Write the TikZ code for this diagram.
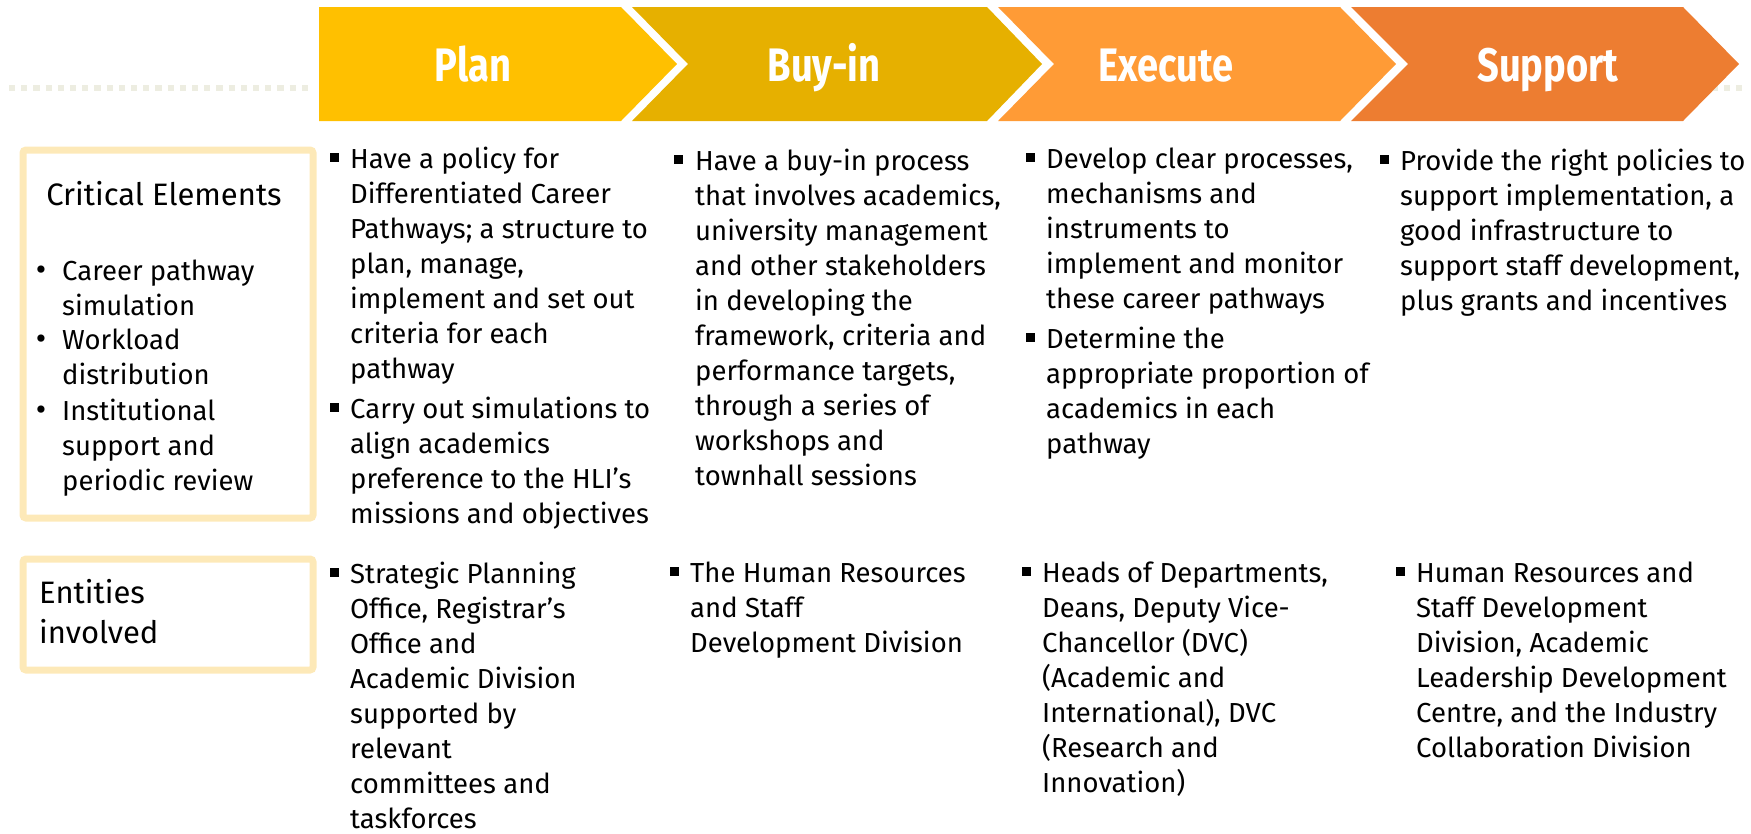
\documentclass[tikz,border=0pt]{standalone}
\usepackage{fontspec}
\setmainfont{Fira Sans}
\newfontfamily\headfont[FakeStretch=0.81]{Fira Sans}
\definecolor{planc}{HTML}{FFC000}
\definecolor{buyc}{HTML}{E6B000}
\definecolor{execc}{HTML}{FF9B36}
\definecolor{suppc}{HTML}{ED7D31}
\definecolor{boxc}{HTML}{FDE9B8}
\definecolor{dotc}{HTML}{EDEDE1}
\newcommand{\lns}[1]{\begin{tabular}[t]{@{}l@{}}#1\end{tabular}}
\tikzset{
  heading/.style={anchor=base, inner sep=0pt, text=white, font=\headfont\bfseries\fontsize{47}{47}\selectfont},
  bodytxt/.style={anchor=base west, inner sep=0pt, font=\fontsize{27.5}{35}\selectfont},
  lefttxt/.style={anchor=base west, inner sep=0pt, font=\fontsize{27.5}{35}\selectfont},
  labeltxt/.style={anchor=base west, inner sep=0pt, font=\fontsize{31}{40}\selectfont},
  sqbullet/.style={fill=black, minimum size=9pt, inner sep=0pt, anchor=center},
  rdbullet/.style={anchor=base, inner sep=0pt, font=\fontsize{32}{35}\selectfont},
  lbox/.style={draw=boxc, line width=7pt, rounded corners=3pt, anchor=north west, inner sep=0pt},
  dotline/.style={draw=dotc, line width=6pt, dash pattern=on 6.2pt off 6pt},
}
\begin{document}
\begin{tikzpicture}[x=1pt,y=-1pt]
\useasboundingbox (0,0) rectangle (1751,833);
% dotted guide line
\draw[dotline] (9,88) -- (308,88);
\draw[dotline] (1712,88) -- (1742,88);
% chevrons
\fill[planc] (319,7) -- (621,7) -- (677,64) -- (621,121) -- (319,121) -- cycle;
\fill[buyc] (632,7) -- (987,7) -- (1042,64) -- (987,121) -- (632,121) -- (688,64) -- cycle;
\fill[execc] (998,7) -- (1340,7) -- (1396,64) -- (1340,121) -- (998,121) -- (1054,64) -- cycle;
\fill[suppc] (1351,7) -- (1683,7) -- (1739,64) -- (1683,121) -- (1351,121) -- (1408,64) -- cycle;
\node[heading] (hplan) at (473,81) {Plan};
\node[heading] (hbuy) at (824,81) {Buy-in};
\node[heading] (hexec) at (1166,81) {Execute};
\node[heading] (hsupp) at (1548,81) {Support};
% left boxes
\node[lbox, minimum width=290pt, minimum height=368pt] (cebox) at (19.5,146.5) {};
\node[lbox, minimum width=290pt, minimum height=111pt] (enbox) at (19.5,555.5) {};
\node[labeltxt, anchor=base] (celabel) at (164,205) {Critical Elements};
\node[rdbullet] (lb1) at (41,280) {\textbullet};
\node[lefttxt] (lt1) at (62,280) {\lns{Career pathway\\simulation}};
\node[rdbullet] (lb2) at (41,349) {\textbullet};
\node[lefttxt] (lt2) at (62,349) {\lns{Workload\\distribution}};
\node[rdbullet] (lb3) at (41,420) {\textbullet};
\node[lefttxt] (lt3) at (62,420) {\lns{Institutional\\support and\\periodic review}};
\node[labeltxt] (enlabel) at (39,603) {\lns{Entities\\involved}};
% critical elements row
\node[sqbullet] (pcb1) at (334,157) {};
\node[bodytxt] (pct1) at (350,168) {\lns{Have a policy for\\Differentiated Career\\Pathways; a structure to\\plan, manage,\\implement and set out\\criteria for each\\pathway}};
\node[sqbullet] (pcb2) at (334,407) {};
\node[bodytxt] (pct2) at (350,418) {\lns{Carry out simulations to\\align academics\\preference to the HLI’s\\missions and objectives}};
\node[sqbullet] (bcb1) at (678,159) {};
\node[bodytxt] (bct1) at (695,170) {\lns{Have a buy-in process\\that involves academics,\\university management\\and other stakeholders\\in developing the\\framework, criteria and\\performance targets,\\through a series of\\workshops and\\townhall sessions}};
\node[sqbullet] (ecb1) at (1030,157) {};
\node[bodytxt] (ect1) at (1046,168) {\lns{Develop clear processes,\\mechanisms and\\instruments to\\implement and monitor\\these career pathways}};
\node[sqbullet] (ecb2) at (1030,337) {};
\node[bodytxt] (ect2) at (1046,348) {\lns{Determine the\\appropriate proportion of\\academics in each\\pathway}};
\node[sqbullet] (scb1) at (1384,159) {};
\node[bodytxt] (sct1) at (1400,170) {\lns{Provide the right policies to\\support implementation, a\\good infrastructure to\\support staff development,\\plus grants and incentives}};
% entities row
\node[sqbullet] (peb) at (334,572) {};
\node[bodytxt] (pet) at (350,583) {\lns{Strategic Planning\\Office, Registrar’s\\Office and\\Academic Division\\supported by\\relevant\\committees and\\taskforces}};
\node[sqbullet] (beb) at (674,571) {};
\node[bodytxt] (bet) at (690,582) {\lns{The Human Resources\\and Staff\\Development Division}};
\node[sqbullet] (eeb) at (1026,571) {};
\node[bodytxt] (eet) at (1042,582) {\lns{Heads of Departments,\\Deans, Deputy Vice-\\Chancellor (DVC)\\(Academic and\\International), DVC\\(Research and\\Innovation)}};
\node[sqbullet] (seb) at (1400,571) {};
\node[bodytxt] (set) at (1416,582) {\lns{Human Resources and\\Staff Development\\Division, Academic\\Leadership Development\\Centre, and the Industry\\Collaboration Division}};
\end{tikzpicture}
\end{document}
